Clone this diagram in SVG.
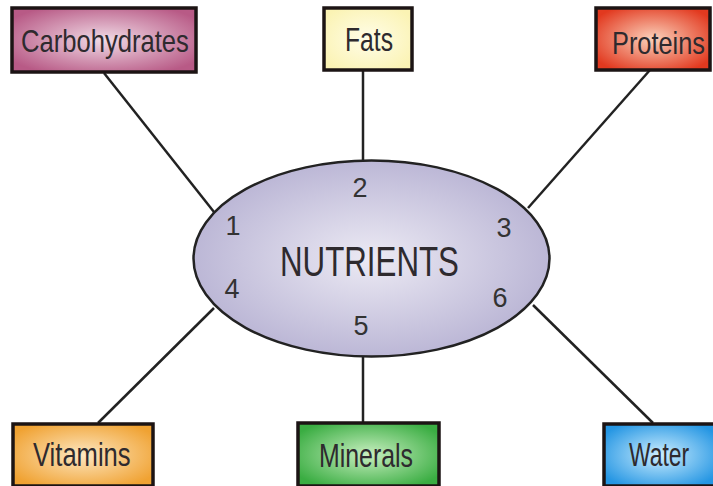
<svg xmlns="http://www.w3.org/2000/svg" width="713" height="486" viewBox="0 0 713 486">
<defs>
<radialGradient id="gCarb" cx="50%" cy="50%" r="60%"><stop offset="0" stop-color="#f1dbe6"/><stop offset="1" stop-color="#b85a86"/></radialGradient>
<radialGradient id="gFats" cx="50%" cy="50%" r="60%"><stop offset="0" stop-color="#fffde8"/><stop offset="1" stop-color="#fbf3b4"/></radialGradient>
<radialGradient id="gProt" cx="50%" cy="50%" r="60%"><stop offset="0" stop-color="#fbd2bc"/><stop offset="1" stop-color="#e2391f"/></radialGradient>
<radialGradient id="gVit" cx="50%" cy="50%" r="60%"><stop offset="0" stop-color="#fde7c2"/><stop offset="1" stop-color="#f0a232"/></radialGradient>
<radialGradient id="gMin" cx="50%" cy="50%" r="60%"><stop offset="0" stop-color="#c8efc0"/><stop offset="1" stop-color="#3aad42"/></radialGradient>
<radialGradient id="gWat" cx="50%" cy="50%" r="60%"><stop offset="0" stop-color="#cdeeff"/><stop offset="1" stop-color="#2596e3"/></radialGradient>
<radialGradient id="gEll" cx="50%" cy="50%" r="55%"><stop offset="0" stop-color="#eceaf4"/><stop offset="1" stop-color="#b7b2d3"/></radialGradient>
<style>
.box{stroke:#1c1414;stroke-width:3.5}
.lbl{font-family:"Liberation Sans",Arial,sans-serif;fill:#2e2a2e;text-anchor:start}
.num{font-family:"Liberation Sans",Arial,sans-serif;fill:#333;font-size:27px;text-anchor:middle}
.conn line{stroke:#222;stroke-width:2.5}
</style>
</defs>
<rect width="713" height="486" fill="#ffffff"/>
<g id="connectors" class="conn">
<line x1="104" y1="73" x2="214" y2="212"/>
<line x1="363" y1="70" x2="363" y2="160"/>
<line x1="650" y1="70" x2="528" y2="208"/>
<line x1="214" y1="308" x2="98" y2="423"/>
<line x1="363" y1="357" x2="363" y2="422"/>
<line x1="533" y1="305" x2="653" y2="423"/>
</g>
<g id="nutrients">
<ellipse cx="371.5" cy="258.5" rx="178" ry="98" fill="url(#gEll)" stroke="#222" stroke-width="2.5"/>
<text class="lbl" transform="translate(280,276) scale(0.745,1)" font-size="42">NUTRIENTS</text>
<text class="num" x="233" y="235">1</text>
<text class="num" x="360" y="197">2</text>
<text class="num" x="504" y="237">3</text>
<text class="num" x="232" y="298">4</text>
<text class="num" x="361" y="335">5</text>
<text class="num" x="500" y="307">6</text>
</g>
<g id="carbohydrates">
<rect class="box" x="12" y="8" width="184" height="64" fill="url(#gCarb)"/>
<text class="lbl" transform="translate(21,52) scale(0.80,1)" font-size="32">Carbohydrates</text>
</g>
<g id="fats">
<rect class="box" x="324" y="8" width="88" height="62" fill="url(#gFats)"/>
<text class="lbl" transform="translate(345,51) scale(0.748,1)" font-size="33">Fats</text>
</g>
<g id="proteins">
<rect class="box" x="596" y="8" width="114" height="62" fill="url(#gProt)"/>
<text class="lbl" transform="translate(612,54) scale(0.792,1)" font-size="32">Proteins</text>
</g>
<g id="vitamins">
<rect class="box" x="13" y="424" width="140" height="62" fill="url(#gVit)"/>
<text class="lbl" transform="translate(33,466) scale(0.775,1)" font-size="33">Vitamins</text>
</g>
<g id="minerals">
<rect class="box" x="298" y="423" width="141" height="63" fill="url(#gMin)"/>
<text class="lbl" transform="translate(319,467) scale(0.754,1)" font-size="33">Minerals</text>
</g>
<g id="water">
<rect class="box" x="604" y="424" width="112" height="62" fill="url(#gWat)"/>
<text class="lbl" transform="translate(629,466) scale(0.693,1)" font-size="33">Water</text>
</g>
</svg>
